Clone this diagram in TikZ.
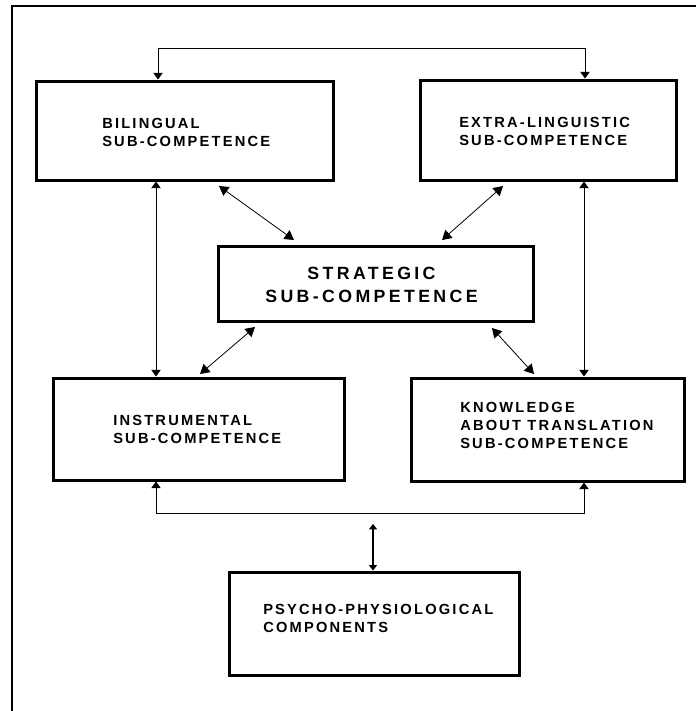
\documentclass[tikz,border=0pt]{standalone}
\usepackage{fontspec}
\setmainfont{Liberation Sans}
\newfontfamily\labfont{Liberation Sans}[LetterSpace=15]
\newfontfamily\strfont{Liberation Sans}[LetterSpace=19]
\usetikzlibrary{arrows.meta}
\begin{document}
\begin{tikzpicture}[x=0.75pt,y=-0.75pt,
  box/.style={draw, rectangle, line width=2.25pt, inner sep=0pt},
  lab/.style={font={\labfont\bfseries\fontsize{11}{13.5}\selectfont}, align=left, inner sep=0pt},
  strlab/.style={font={\strfont\bfseries\fontsize{13.3}{17.25}\selectfont}, align=center, inner sep=0pt},
  frame/.style={line width=1pt},
  conn/.style={line width=0.75pt},
  bothtips/.style={{Triangle[width=7pt,length=5pt]}-{Triangle[width=7pt,length=5pt]}},
  midtips/.style={line width=0.9pt,{Triangle[width=6pt,length=4pt]}-{Triangle[width=6pt,length=4pt]}},
  diag/.style={line width=0.6pt,{Triangle[width=8pt,length=7pt]}-{Triangle[width=8pt,length=7pt]}}]
\useasboundingbox (0,0) rectangle (696,711);
\clip (0,0) rectangle (696,711);
\fill[white] (0,0) rectangle (696,711);

% outer frame (right and bottom sides lie outside the picture)
\draw[frame] (12,730) -- (12,6) -- (720,6);

% boxes
\node[box, minimum width=222.75pt, minimum height=74.25pt] (bil) at (184.5,130.5) {};
\node[box, minimum width=192pt,    minimum height=75pt]    (ext) at (548,130) {};
\node[box, minimum width=236.25pt, minimum height=56.25pt] (str) at (375.5,283.5) {};
\node[box, minimum width=218.25pt, minimum height=76.5pt]  (ins) at (198.5,429) {};
\node[box, minimum width=204.75pt, minimum height=77.25pt] (kno) at (547.5,429.5) {};
\node[box, minimum width=217.5pt,  minimum height=77.25pt] (psy) at (374,623.5) {};

% labels
\node[lab, anchor=west] (bilt) at (102,132.5) {BILINGUAL\\SUB-COMPETENCE};
\node[lab, anchor=west] (extt) at (459,131) {EXTRA-LINGUISTIC\\SUB-COMPETENCE};
\node[strlab] (strt) at (371.5,284.5) {STRATEGIC\\SUB-COMPETENCE};
\node[lab, anchor=west] (inst) at (113,429) {INSTRUMENTAL\\SUB-COMPETENCE};
\node[lab, anchor=west] (knot) at (460,425.5) {KNOWLEDGE\\ABOUT TRANSLATION\\SUB-COMPETENCE};
\node[lab, anchor=west] (psyt) at (263,618.5) {PSYCHO-PHYSIOLOGICAL\\COMPONENTS};

% connector points
\coordinate (tl) at (158,48);
\coordinate (tr) at (585,48);
\coordinate (lv) at (156,0);
\coordinate (rv) at (584,0);
\coordinate (bl) at (156,513);
\coordinate (br) at (584,513);
\coordinate (mt) at (373,524);
\coordinate (d1a) at (219,186);
\coordinate (d1b) at (294,240);
\coordinate (d2a) at (503,186);
\coordinate (d2b) at (442,240);
\coordinate (d3a) at (255,327);
\coordinate (d3b) at (200,374);
\coordinate (d4a) at (492,328);
\coordinate (d4b) at (534,374);

% connectors
\draw[conn, bothtips] (tl |- bil.north) -- (tl) -- (tr) -- (tr |- ext.north);
\draw[conn, bothtips] (lv |- bil.south) -- (lv |- ins.north);
\draw[conn, bothtips] (rv |- ext.south) -- (rv |- kno.north);
\draw[conn, bothtips] (bl |- ins.south) -- (bl) -- (br) -- (br |- kno.south);
\draw[midtips] (mt) -- (mt |- psy.north);
\draw[diag] (d1a) -- (d1b);
\draw[diag] (d2a) -- (d2b);
\draw[diag] (d3a) -- (d3b);
\draw[diag] (d4a) -- (d4b);
\end{tikzpicture}
\end{document}
